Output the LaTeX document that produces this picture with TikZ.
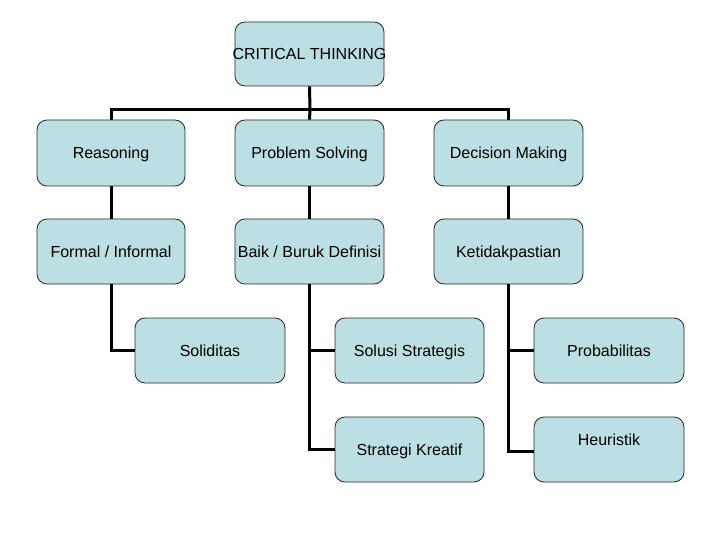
\documentclass[tikz,border=0pt]{standalone}
\usepackage{fontspec}
\setmainfont{Liberation Sans}
\definecolor{boxfill}{HTML}{BCDFE3}
\begin{document}
\begin{tikzpicture}[x=1pt,y=-1pt,
  box/.style={draw=black!85, line width=0.8pt, fill=boxfill, rounded corners=10pt,
    minimum width=149pt, minimum height=65pt, inner sep=0pt,
    text height=11.5pt, text depth=0pt,
    font=\fontsize{16}{19}\selectfont, text=black},
  conn/.style={line width=3pt, black}]
\useasboundingbox (0,0) rectangle (720,540);
\node[box, minimum height=64pt, inner xsep=-6pt] (ct) at (309.5,54) {CRITICAL THINKING};
\node[box, minimum height=66pt, minimum width=148pt] (r1) at (111,153) {Reasoning};
\node[box, minimum height=66pt] (ps) at (309.5,153) {Problem Solving};
\node[box, minimum height=66pt] (dm) at (508.5,153) {Decision Making};
\node[box, minimum width=148pt] (fi) at (111,251.5) {Formal / Informal};
\node[box] (bb) at (309.5,251.5) {Baik / Buruk Definisi};
\node[box] (kt) at (508.5,251.5) {Ketidakpastian};
\node[box, minimum width=150pt] (so) at (210,350.5) {Soliditas};
\node[box] (ss) at (409.5,350.5) {Solusi Strategis};
\node[box, minimum width=150pt] (pr) at (609,350.5) {Probabilitas};
\node[box] (sk) at (409.5,449.5) {Strategi Kreatif};
\node[box, minimum width=150pt] (he) at (609,449.5) {};
\node[font=\fontsize{16}{19}\selectfont, inner sep=0pt, text height=11.5pt, text depth=0pt] (het) at (609,440) {Heuristik};
\coordinate (bus) at (310,110);
\draw[conn] (ct.south) -- (bus);
\draw[conn] (r1.north) |- (bus) -| (dm.north);
\draw[conn] (bus) -- (ps.north);
\draw[conn] (r1.south) -- (fi.north);
\draw[conn] (ps.south) -- (bb.north);
\draw[conn] (dm.south) -- (kt.north);
\draw[conn] (fi.south) |- (so.west);
\draw[conn] (bb.south) |- (ss.west);
\draw[conn] (bb.south) |- (sk.west);
\draw[conn] (kt.south) |- (pr.west);
\draw[conn] (kt.south) |- ([yshift=-1.5pt]he.west);
\end{tikzpicture}
\end{document}
